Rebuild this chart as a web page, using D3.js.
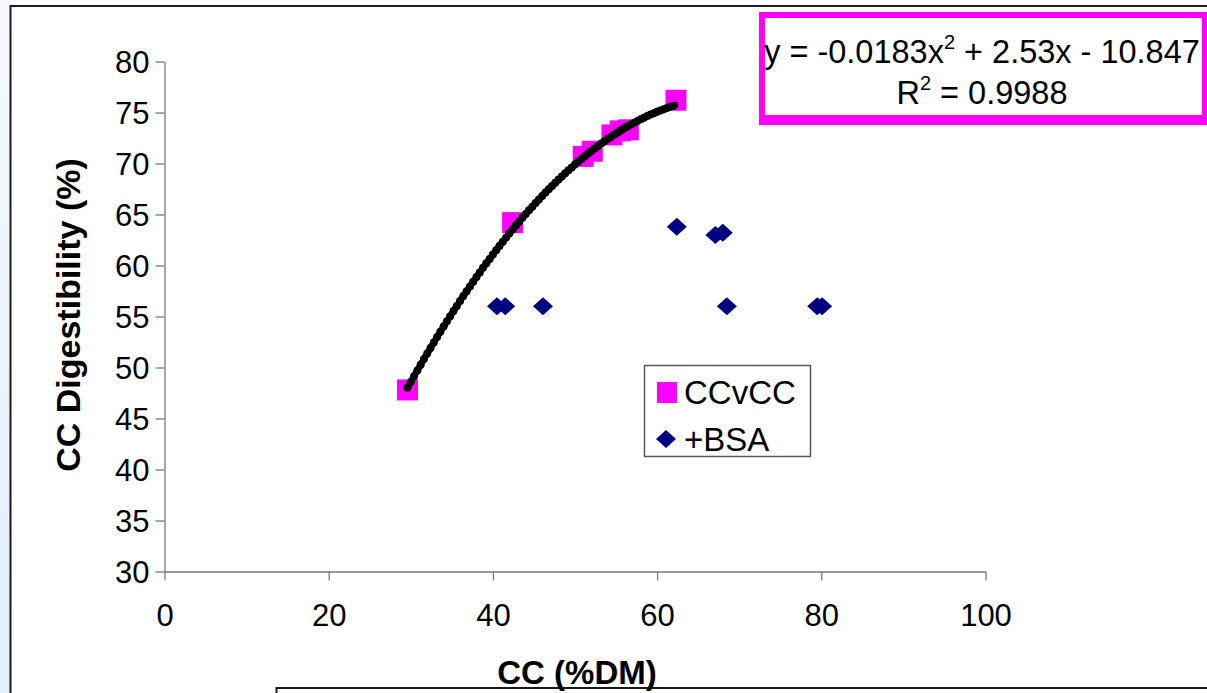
<!DOCTYPE html>
<html>
<head>
<meta charset="utf-8">
<script src="https://cdn.jsdelivr.net/npm/d3@7"></script>
<style>
  html, body { margin: 0; padding: 0; background: #ffffff; }
  svg { display: block; font-family: "Liberation Sans", Arial, sans-serif; }
</style>
</head>
<body>
<svg id="chart" width="1207" height="693"></svg>
<script>
// CC content (%DM) vs CC digestibility (%)
const ccvccX = [29.6, 42.4, 51.0, 52.1, 54.5, 55.5, 56.5, 62.3];
const ccvccY = [47.8, 64.2, 70.7, 71.2, 72.8, 73.2, 73.3, 76.2];

const bsaX = [40.5, 41.5, 46.1, 62.4, 67.1, 68.0, 68.5, 79.5, 80.1];
const bsaY = [56.0, 56.0, 56.0, 63.8, 63.0, 63.2, 56.0, 56.0, 56.0];

// Polynomial trendline (order 2) fitted to CCvCC
const trendCoef = [-0.0183, 2.53, -10.847];   // a, b, c
const trendR2 = 0.9988;

const xTicks = [0, 20, 40, 60, 80, 100];
const yTicks = [30, 35, 40, 45, 50, 55, 60, 65, 70, 75, 80];
const seriesNames = ["CCvCC", "+BSA"];

const svg = d3.select("#chart");

// Slide background strip and frame
const defs = svg.append("defs");
const grad = defs.append("linearGradient").attr("id", "strip")
  .attr("x1", 0).attr("y1", 0).attr("x2", 0).attr("y2", 1);
grad.append("stop").attr("offset", "0%").attr("stop-color", "#f6f9fd");
grad.append("stop").attr("offset", "100%").attr("stop-color", "#e1effc");
svg.append("rect").attr("x", 0).attr("y", 0).attr("width", 10).attr("height", 693)
  .attr("fill", "url(#strip)");
svg.append("path").attr("d", "M10.5,693 V6 H1207")
  .attr("fill", "none").attr("stroke", "#1a1a1a").attr("stroke-width", 2);
svg.append("path").attr("d", "M276.5,693 V688 H1207")
  .attr("fill", "none").attr("stroke", "#1a1a1a").attr("stroke-width", 2);

// Scales
const x = d3.scaleLinear().domain([0, 100]).range([164.5, 985.5]);
const y = d3.scaleLinear().domain([30, 80]).range([571.5, 61.5]);

// Axes
const axisColor = "#7a7a7a";
const gx = svg.append("g").attr("transform", `translate(0,${y(30)})`)
  .call(d3.axisBottom(x).tickValues(xTicks).tickSize(9).tickSizeOuter(0).tickPadding(23));
const gy = svg.append("g").attr("transform", `translate(${x(0)},0)`)
  .call(d3.axisLeft(y).tickValues(yTicks).tickSize(9).tickSizeOuter(0).tickPadding(6));
[gx, gy].forEach(g => {
  g.select(".domain").attr("stroke", axisColor).attr("stroke-width", 1.3);
  g.selectAll(".tick line").attr("stroke", axisColor).attr("stroke-width", 1.3);
  g.selectAll(".tick text").attr("fill", "#000").attr("font-size", 31)
    .attr("font-family", "'Liberation Sans', Arial, sans-serif");
});
gy.selectAll(".tick text").attr("dy", "0.36em");
gx.selectAll(".tick text").attr("dy", "0.72em");

// Axis titles
svg.append("text").attr("x", 577).attr("y", 684).attr("text-anchor", "middle")
  .attr("font-size", 33).attr("font-weight", "bold").text("CC (%DM)");
svg.append("text").attr("transform", "translate(80,315) rotate(-90)")
  .attr("text-anchor", "middle").attr("font-size", 34).attr("font-weight", "bold")
  .text("CC Digestibility (%)");

// CCvCC squares
const sq = 21;
svg.append("g").selectAll("rect").data(d3.zip(ccvccX, ccvccY)).join("rect")
  .attr("x", d => x(d[0]) - sq / 2).attr("y", d => y(d[1]) - sq / 2)
  .attr("width", sq).attr("height", sq).attr("fill", "#ff00ff");

// Trendline drawn as a dense chain of black dots across the CCvCC range
const [a, b, c] = trendCoef;
const xMin = d3.min(ccvccX), xMax = d3.max(ccvccX);
const trendPts = d3.range(xMin, xMax + 1e-9, 0.2).map(v => [v, a * v * v + b * v + c]);
svg.append("path").datum(trendPts)
  .attr("d", d3.line().x(d => x(d[0])).y(d => y(d[1])))
  .attr("fill", "none").attr("stroke", "#000").attr("stroke-width", 6.5)
  .attr("stroke-linecap", "round");
svg.append("g").selectAll("circle").data(trendPts.filter((d, i) => i % 2 === 0)).join("circle")
  .attr("cx", d => x(d[0])).attr("cy", d => y(d[1])).attr("r", 4).attr("fill", "#000");

// +BSA diamonds
const diamond = (cx, cy) => `M${cx - 10},${cy} L${cx},${cy - 9} L${cx + 10},${cy} L${cx},${cy + 9} Z`;
svg.append("g").selectAll("path").data(d3.zip(bsaX, bsaY)).join("path")
  .attr("d", d => diamond(x(d[0]), y(d[1]))).attr("fill", "#000080");

// Legend
const lg = svg.append("g");
lg.append("rect").attr("x", 644.5).attr("y", 365.5).attr("width", 166).attr("height", 91)
  .attr("fill", "#fff").attr("stroke", "#555").attr("stroke-width", 1.5);
lg.append("rect").attr("x", 657).attr("y", 382).attr("width", 20).attr("height", 21).attr("fill", "#ff00ff");
lg.append("text").attr("x", 684).attr("y", 404).attr("font-size", 33).text(seriesNames[0]);
lg.append("path").attr("d", diamond(666, 439)).attr("fill", "#000080");
lg.append("text").attr("x", 684).attr("y", 451).attr("font-size", 33).text(seriesNames[1]);

// Trendline equation box
svg.append("rect").attr("x", 759).attr("y", 12).attr("width", 448).attr("height", 113).attr("fill", "#ff00ff");
svg.append("rect").attr("x", 765).attr("y", 18).attr("width", 437).attr("height", 97).attr("fill", "#fff");
const eq = svg.append("text").attr("x", 982).attr("y", 63).attr("text-anchor", "middle").attr("font-size", 32.5);
eq.append("tspan").text(`y = ${a}x`);
eq.append("tspan").attr("font-size", 20).attr("dy", -14).text("2");
eq.append("tspan").attr("dy", 14).text(` + ${b}x - ${Math.abs(c)}`);
const r2 = svg.append("text").attr("x", 982).attr("y", 104).attr("text-anchor", "middle").attr("font-size", 32.5);
r2.append("tspan").text("R");
r2.append("tspan").attr("font-size", 20).attr("dy", -14).text("2");
r2.append("tspan").attr("dy", 14).text(` = ${trendR2}`);
</script>
</body>
</html>
